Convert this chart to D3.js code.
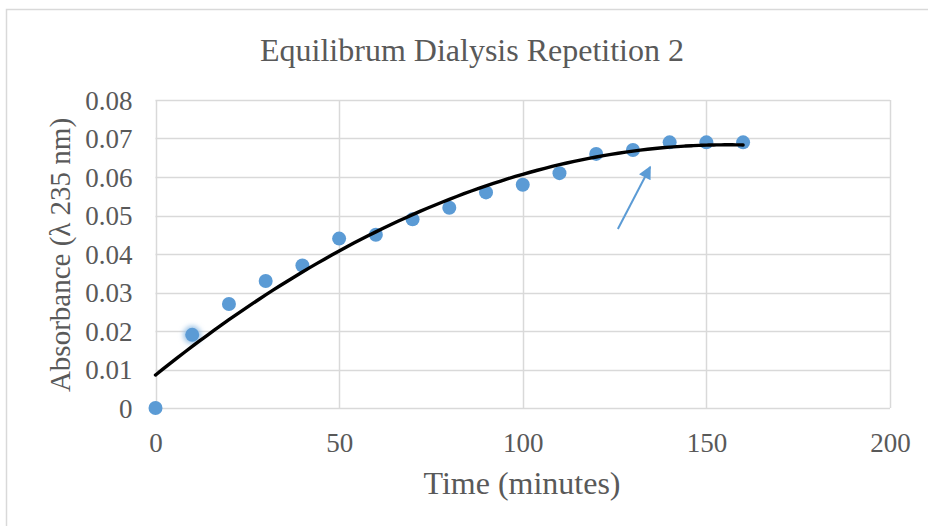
<!DOCTYPE html>
<html>
<head>
<meta charset="utf-8">
<script src="https://cdn.jsdelivr.net/npm/d3@7"></script>
<style>
html,body{margin:0;padding:0;background:#fff;}
svg{display:block;}
text{font-family:"Liberation Serif","Times New Roman",serif;fill:#595959;}
</style>
</head>
<body>
<svg id="chart" width="928" height="526"></svg>
<script>
const timeMinutes = [0,10,20,30,40,50,60,70,80,90,100,110,120,130,140,150,160];
const absorbance = [0,0.019,0.027,0.033,0.037,0.044,0.045,0.049,0.052,0.056,0.058,0.061,0.066,0.067,0.069,0.069,0.069];
const xTicks = [0,50,100,150,200];
const yTicks = [0,0.01,0.02,0.03,0.04,0.05,0.06,0.07,0.08];
const chartTitle = "Equilibrum Dialysis Repetition 2";
const xTitle = "Time (minutes)";
const yTitle = "Absorbance (\u03bb 235 nm)";
const highlightedIndex = 1;
const arrowFrom = [125.9, 0.0465];
const arrowTo = [134.7, 0.0626];

const svg = d3.select("#chart");
const W = 928, H = 526;
const m = {left:155.5, right:890, top:100, bottom:408};

svg.append("rect").attr("x",6.5).attr("y",9.5).attr("width",W+20).attr("height",H+20)
  .attr("fill","#fff").attr("stroke","#d9d9d9").attr("stroke-width",1.5);

const x = d3.scaleLinear().domain([0,200]).range([m.left,m.right]);
const y = d3.scaleLinear().domain([0,0.08]).range([m.bottom,m.top]);

// gridlines
const g = svg.append("g");
g.selectAll(".hg").data(yTicks).join("line")
  .attr("x1",m.left).attr("x2",m.right)
  .attr("y1",d=>Math.round(y(d))+0.5).attr("y2",d=>Math.round(y(d))+0.5)
  .attr("stroke","#d9d9d9").attr("stroke-width",1.5);
g.selectAll(".vg").data(xTicks).join("line")
  .attr("y1",m.top).attr("y2",m.bottom)
  .attr("x1",d=>Math.round(x(d))+0.5).attr("x2",d=>Math.round(x(d))+0.5)
  .attr("stroke","#d9d9d9").attr("stroke-width",1.5);

// axes (labels only)
const xAxis = svg.append("g").attr("transform",`translate(0,${m.bottom})`)
  .call(d3.axisBottom(x).tickValues(xTicks).tickSize(0).tickPadding(25).tickFormat(d3.format("d")));
const yAxis = svg.append("g").attr("transform",`translate(${m.left},0)`)
  .call(d3.axisLeft(y).tickValues(yTicks).tickSize(0).tickPadding(23).tickFormat(d=>d===0?"0":d3.format(".2f")(d)));
[xAxis,yAxis].forEach(a=>{
  a.select(".domain").remove();
  a.selectAll("text").style("font-family",'"Liberation Serif",serif').style("font-size","27px").attr("fill","#595959");
});
yAxis.selectAll("text").attr("dy","0.34em");
xAxis.selectAll("text").attr("dy","0.71em");

// glow for highlighted point
const defs = svg.append("defs");
const f = defs.append("filter").attr("id","glow").attr("x","-1").attr("y","-1").attr("width","3").attr("height","3");
f.append("feGaussianBlur").attr("stdDeviation",2.5);

const pts = timeMinutes.map((t,i)=>({t,a:absorbance[i],i}));
svg.append("circle").attr("cx",x(timeMinutes[highlightedIndex])).attr("cy",y(absorbance[highlightedIndex]))
  .attr("r",9).attr("fill","#9cc3e6").attr("filter","url(#glow)");
svg.selectAll(".pt").data(pts).join("circle")
  .attr("cx",d=>x(d.t)).attr("cy",d=>y(d.a)).attr("r",7).attr("fill","#5b9bd5");

// quadratic least-squares trendline
function polyfit2(xs,ys){
  let S=[0,0,0,0,0],T=[0,0,0];
  xs.forEach((xv,i)=>{for(let k=0;k<5;k++)S[k]+=Math.pow(xv,k);for(let k=0;k<3;k++)T[k]+=ys[i]*Math.pow(xv,k);});
  const A=[[S[0],S[1],S[2],T[0]],[S[1],S[2],S[3],T[1]],[S[2],S[3],S[4],T[2]]];
  for(let i=0;i<3;i++){for(let j=i+1;j<3;j++){const r=A[j][i]/A[i][i];for(let k=i;k<4;k++)A[j][k]-=r*A[i][k];}}
  const c=[0,0,0];
  for(let i=2;i>=0;i--){let s=A[i][3];for(let k=i+1;k<3;k++)s-=A[i][k]*c[k];c[i]=s/A[i][i];}
  return c;
}
const c = polyfit2(timeMinutes,absorbance);
const trend = d3.range(0,160.01,2).map(t=>[t,c[0]+c[1]*t+c[2]*t*t]);
svg.append("path").datum(trend)
  .attr("d",d3.line().x(d=>x(d[0])).y(d=>y(d[1])).curve(d3.curveMonotoneX))
  .attr("fill","none").attr("stroke","#000").attr("stroke-width",3.4).attr("stroke-linecap","round");

// arrow
defs.append("marker").attr("id","ah").attr("viewBox","0 0 10 10").attr("refX",9).attr("refY",5)
  .attr("markerUnits","userSpaceOnUse").attr("markerWidth",15).attr("markerHeight",13).attr("orient","auto")
  .append("path").attr("d","M0,0 L10,5 L0,10 Z").attr("fill","#5b9bd5");
svg.append("line").attr("x1",x(arrowFrom[0])).attr("y1",y(arrowFrom[1]))
  .attr("x2",x(arrowTo[0])).attr("y2",y(arrowTo[1]))
  .attr("stroke","#5b9bd5").attr("stroke-width",2).attr("marker-end","url(#ah)");

// titles
svg.append("text").attr("x",472).attr("y",61).attr("text-anchor","middle")
  .style("font-size","32px").text(chartTitle);
svg.append("text").attr("x",522).attr("y",494).attr("text-anchor","middle")
  .style("font-size","32px").text(xTitle);
svg.append("text").attr("transform","translate(70,255) rotate(-90)").attr("text-anchor","middle")
  .style("font-size","29px").text(yTitle);
</script>
</body>
</html>
